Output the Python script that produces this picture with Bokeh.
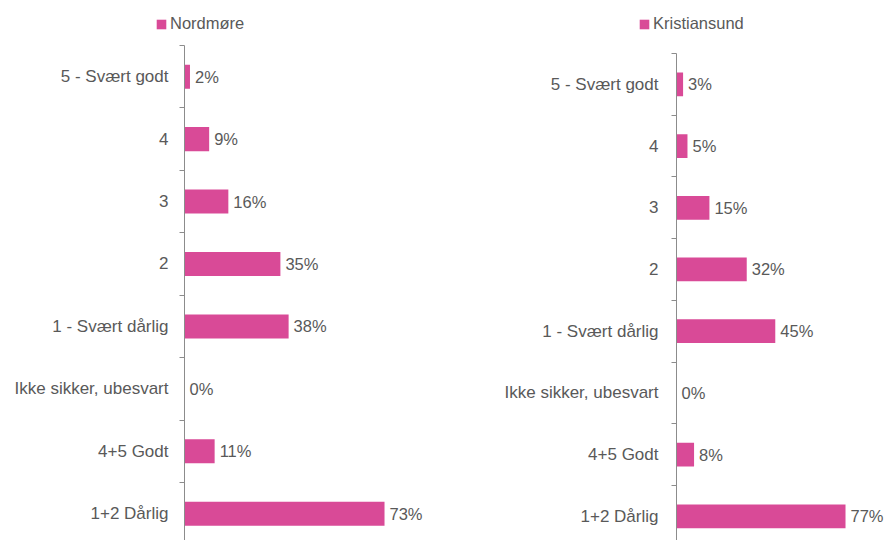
from bokeh.plotting import figure
from bokeh.models import Range1d, FixedTicker, Legend, LegendItem, ColumnDataSource
from bokeh.layouts import row
from bokeh.embed import file_html
from bokeh.resources import INLINE
from bokeh.core.properties import value

categories = ["5 - Svært godt", "4", "3", "2", "1 - Svært dårlig",
              "Ikke sikker, ubesvart", "4+5 Godt", "1+2 Dårlig"]
nordmore = [2, 9, 16, 35, 38, 0, 11, 73]
kristiansund = [3, 5, 15, 32, 45, 0, 8, 77]
series_names = ["Nordmøre", "Kristiansund"]

BAR = "#D94A97"
TXT = "#595959"
AXC = "#8C8C8C"
FONT = "Liberation Sans"


def panel(vals, width, left, xmax, ytop, ybottom, standoff):
    pos = list(range(len(categories)))
    p = figure(width=width, height=495, x_range=Range1d(0, xmax),
               y_range=Range1d(ybottom, ytop), x_axis_location=None,
               min_border_left=left, min_border_right=0, min_border_top=0,
               min_border_bottom=0, output_backend="svg", toolbar_location=None)
    src = ColumnDataSource(dict(y=pos, v=vals, lab=[f"{v}%" for v in vals]))
    p.hbar(y="y", left=0, right="v", height=0.385, source=src,
           fill_color=BAR, line_color=None)
    p.text(x="v", y="y", text="lab", source=src, x_offset=5,
           text_baseline="middle", text_align="left", text_color=TXT,
           text_font=value(FONT), text_font_size="16.5px")
    ax = p.yaxis[0]
    ax.ticker = FixedTicker(ticks=pos, minor_ticks=[i - 0.5 for i in range(len(categories) + 1)])
    ax.bounds = (-0.5, len(categories) - 0.5)
    ax.major_label_overrides = {i: c for i, c in enumerate(categories)}
    ax.major_tick_in = 0
    ax.major_tick_out = 0
    ax.minor_tick_in = 0
    ax.minor_tick_out = 5
    ax.minor_tick_line_color = AXC
    ax.axis_line_color = AXC
    ax.major_label_text_font = FONT
    ax.major_label_text_font_size = "17px"
    ax.major_label_text_color = TXT
    ax.major_label_standoff = standoff
    p.xgrid.visible = False
    p.ygrid.visible = False
    p.outline_line_color = None
    return p


# legend strip above the two panels
lf = figure(width=885, height=45, x_range=Range1d(0, 1), y_range=Range1d(0, 1),
            x_axis_location=None, y_axis_location=None,
            min_border_left=0, min_border_right=0, min_border_top=0,
            min_border_bottom=0, output_backend="svg", toolbar_location=None)
lf.xgrid.visible = False
lf.ygrid.visible = False
lf.outline_line_color = None
for name, lx in zip(series_names, [155, 638]):
    # off-screen swatch renderer, used only for the legend glyph
    dummy = lf.hbar(y=[-10], left=[0], right=[0.1], height=0.5,
                    fill_color=BAR, line_color=None)
    leg = Legend(items=[LegendItem(label=name, renderers=[dummy])],
                 location=(lx, 12), orientation="horizontal",
                 glyph_width=12, glyph_height=12, label_height=18,
                 label_standoff=3, padding=0, margin=0, spacing=0,
                 border_line_color=None, background_fill_alpha=0,
                 label_text_font=FONT, label_text_font_size="16.5px",
                 label_text_color=TXT)
    lf.add_layout(leg, "center")

p1 = panel(nordmore, 440, 184, 256 / 2.74, -0.5, 7.43, 11)
p2 = panel(kristiansund, 445, 236, 209 / 2.195, -0.63, 7.393, 13)

layout = row(p1, p2, spacing=0)
open("out.html", "w").write(file_html([lf, layout], INLINE))
